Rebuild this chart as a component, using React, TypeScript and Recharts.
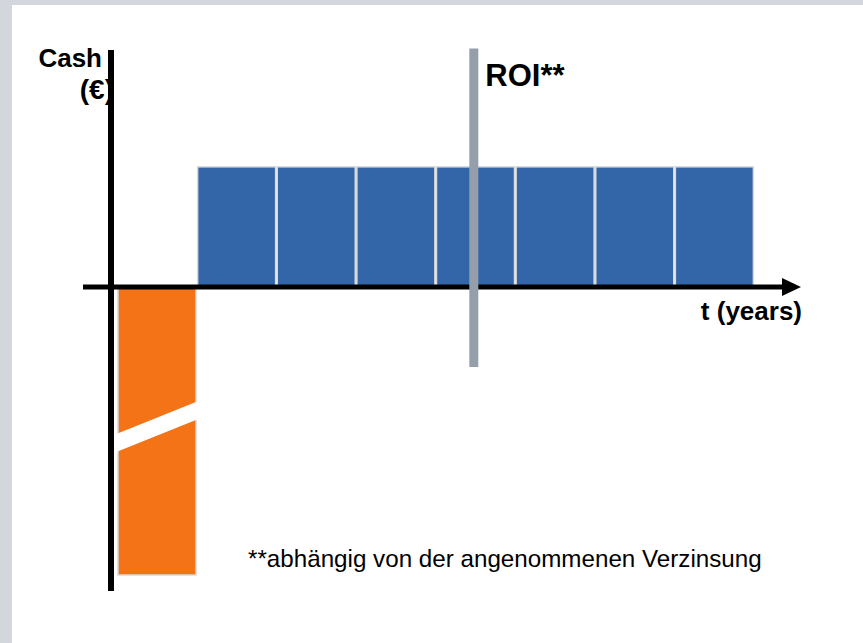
import React from "react";
import { BarChart, Bar, XAxis, YAxis, Cell, ReferenceLine } from "recharts";

// schematic cash flow: investment in year 0, constant return afterwards
const years = ["0", "1", "2", "3", "4", "5", "6", "7"];
const cash = [-3.6, 1.5, 1.5, 1.5, 1.5, 1.5, 1.5, 1.5];
const yDomain = [-3.8, 2.96];
const roiYear = "4";
const roiSpan = [2.98, -1.0];

const data = years.map((t, i) => ({ t, cash: cash[i] }));

const W = 863;
const H = 643;
const ORANGE = "#f47317";
const BLUE = "#3366a8";
const FONT = "'Liberation Sans', Arial, sans-serif";

function CashBar(props: any) {
  const { x, y, width, height, fill } = props;
  const top = Math.min(y, y + height);
  const h = Math.abs(height);
  const negative = height < 0 || props.value < 0 || (props.cash ?? 0) < 0;
  const yl = top + h * 0.54;
  const yr = top + h * 0.43;
  const t = 9;
  return (
    <g>
      <rect x={x} y={top} width={width} height={h} fill={fill} stroke="#d9d9d9" strokeWidth={1.5} />
      {negative && (
        <polygon
          points={`${x - 3},${yl - t + 1} ${x + width + 3},${yr - t - 1} ${x + width + 3},${yr + t - 1} ${x - 3},${yl + t + 1}`}
          fill="#fff"
        />
      )}
    </g>
  );
}

function TimeAxis(props: any) {
  const { x1, y1, x2 } = props;
  const y = y1;
  return (
    <g>
      <line x1={x1 - 28} y1={y} x2={x2 + 30} y2={y} stroke="#000" strokeWidth={5} />
      <polygon points={`${x2 + 28},${y - 9} ${x2 + 47},${y} ${x2 + 28},${y + 9}`} fill="#000" />
      <text x={x2 + 48} y={y + 33} textAnchor="end" fontFamily={FONT} fontWeight="bold" fontSize={26} fill="#000">
        t (years)
      </text>
    </g>
  );
}

function RoiLine(props: any) {
  const { x1, y1, x2, y2 } = props;
  return (
    <g>
      <line x1={x1 - 1.5} y1={y1} x2={x2 - 1.5} y2={y2} stroke="#959fac" strokeWidth={9} />
      <text x={x1 + 10} y={Math.min(y1, y2) + 38} fontFamily={FONT} fontWeight="bold" fontSize={31} fill="#000">
        ROI**
      </text>
    </g>
  );
}

export default function App() {
  return (
    <div style={{ position: "absolute", left: 0, top: 0, width: W, height: H, background: "#d3d6dd", overflow: "hidden" }}>
      <div style={{ position: "absolute", left: 12, top: 5, right: 0, bottom: 0, background: "#fff" }} />
      <svg width={W} height={H} style={{ position: "absolute", left: 0, top: 0 }}>
        <text x={102} y={67} textAnchor="end" fontFamily={FONT} fontWeight="bold" fontSize={26} fill="#000">
          Cash
        </text>
        <text x={114} y={99} textAnchor="end" fontFamily={FONT} fontWeight="bold" fontSize={28} fill="#000">
          (€)
        </text>
        <text x={248} y={567} fontFamily={FONT} fontSize={24.2} fill="#000">
          **abhängig von der angenommenen Verzinsung
        </text>
      </svg>
      <div style={{ position: "absolute", left: 0, top: 0 }}>
        <BarChart
          width={W}
          height={H}
          data={data}
          margin={{ top: 50, right: 109, bottom: 52, left: 0 }}
          barCategoryGap={1}
        >
          <XAxis dataKey="t" hide padding={{ left: 6, right: 0 }} />
          <YAxis
            type="number"
            domain={yDomain}
            allowDataOverflow
            width={111}
            tick={false}
            tickLine={false}
            axisLine={{ stroke: "#000", strokeWidth: 6 }}
          />
          <Bar dataKey="cash" shape={<CashBar />} isAnimationActive={false}>
            {data.map((d, i) => (
              <Cell key={i} fill={d.cash < 0 ? ORANGE : BLUE} />
            ))}
          </Bar>
          <ReferenceLine y={0} shape={(p: any) => <TimeAxis {...p} />} ifOverflow="visible" />
          <ReferenceLine
            segment={[
              { x: roiYear, y: roiSpan[0] },
              { x: roiYear, y: roiSpan[1] },
            ]}
            ifOverflow="visible"
            shape={(p: any) => <RoiLine {...p} />}
          />
        </BarChart>
      </div>
    </div>
  );
}
